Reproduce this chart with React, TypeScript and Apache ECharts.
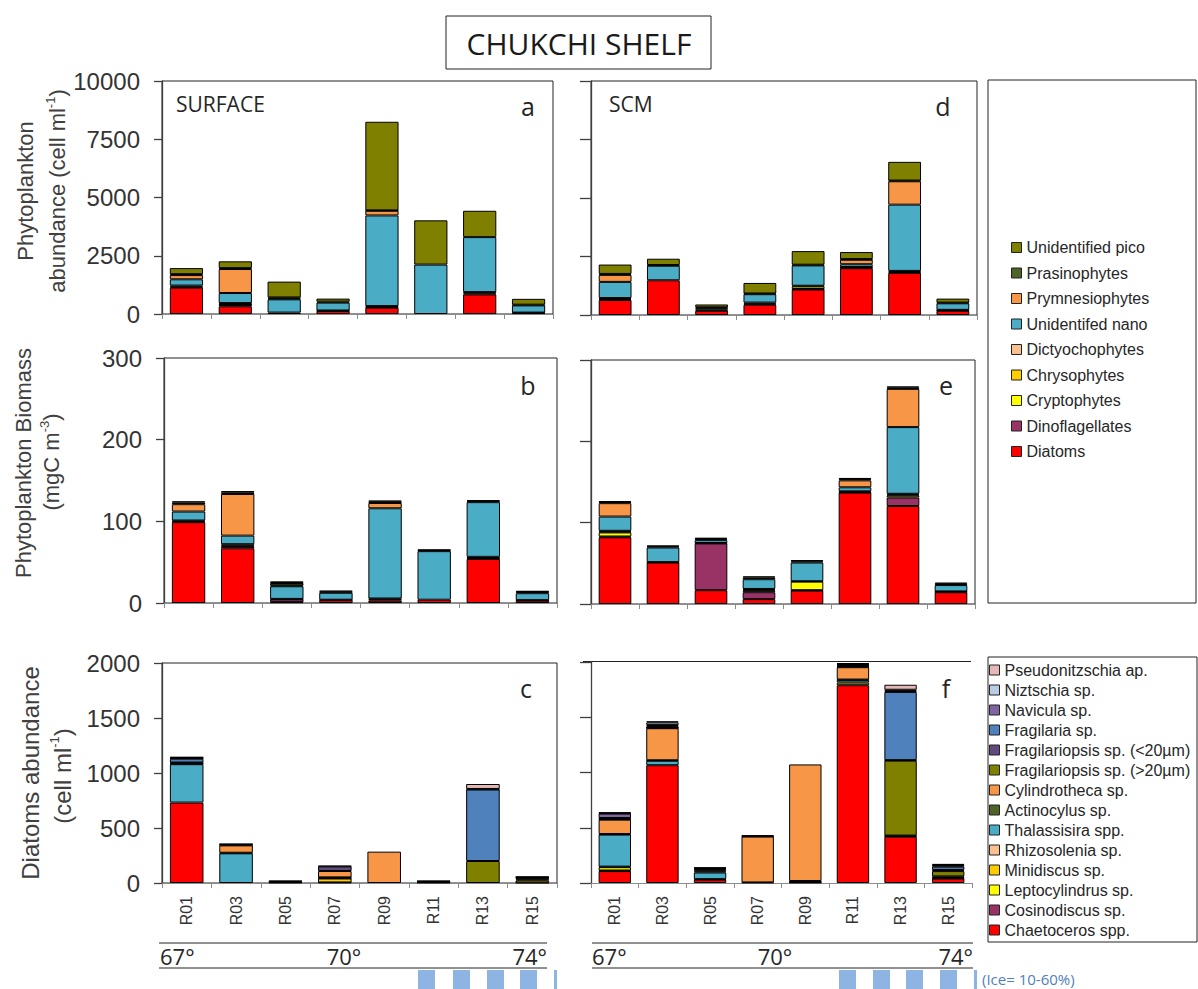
import React, { useEffect, useRef } from 'react';
import * as echarts from 'echarts';

const STATIONS = ['R01', 'R03', 'R05', 'R07', 'R09', 'R11', 'R13', 'R15'];

// groups, stacked bottom -> top
const GROUP_NAMES = ['Diatoms', 'Dinoflagellates', 'Cryptophytes', 'Chrysophytes', 'Dictyochophytes', 'Unidentifed nano', 'Prymnesiophytes', 'Prasinophytes', 'Unidentified pico'];
const GROUP_COLORS = ['#FF0000', '#993366', '#FFFF00', '#FFCC00', '#FAC090', '#4BACC6', '#F79646', '#4F6228', '#808000'];

// diatom species, stacked bottom -> top
const SPECIES_NAMES = ['Chaetoceros spp.', 'Cosinodiscus sp.', 'Leptocylindrus sp.', 'Minidiscus sp.', 'Rhizosolenia sp.', 'Thalassisira spp.', 'Actinocylus sp.', 'Cylindrotheca sp.', 'Fragilariopsis sp. (>20µm)', 'Fragilariopsis sp. (<20µm)', 'Fragilaria sp.', 'Navicula sp.', 'Niztschia sp.', 'Pseudonitzschia ap.'];
const SPECIES_COLORS = ['#FF0000', '#993366', '#FFFF00', '#FFCC00', '#FAC090', '#4BACC6', '#4F6228', '#F79646', '#808000', '#604A7B', '#4F81BD', '#8064A2', '#B9CDE5', '#E6B9B8'];

// a: surface abundance (cell ml-1), rows follow GROUP_NAMES
const abundSurface = [
  [1130, 330, 60, 130, 270, 0, 840, 40],
  [40, 50, 0, 0, 30, 0, 40, 20],
  [0, 20, 0, 0, 0, 0, 0, 0],
  [0, 30, 0, 0, 0, 0, 0, 0],
  [50, 40, 0, 20, 40, 0, 60, 0],
  [270, 430, 570, 340, 3890, 2120, 2360, 310],
  [180, 1030, 40, 0, 200, 0, 0, 0],
  [40, 40, 40, 40, 20, 0, 0, 30],
  [260, 290, 680, 130, 3800, 1900, 1130, 250],
];
// d: SCM abundance
const abundScm = [
  [640, 1485, 180, 440, 1090, 2000, 1800, 180],
  [40, 0, 50, 40, 20, 20, 40, 20],
  [0, 0, 0, 0, 110, 0, 0, 0],
  [0, 0, 0, 0, 0, 0, 0, 0],
  [45, 0, 60, 50, 30, 30, 45, 20],
  [690, 620, 0, 360, 870, 120, 2830, 280],
  [300, 0, 0, 0, 0, 190, 1000, 0],
  [40, 30, 40, 30, 30, 30, 30, 30],
  [400, 270, 120, 450, 580, 300, 800, 170],
];
// b: surface biomass (mgC m-3)
const biomassSurface = [
  [99, 67, 1, 3.5, 3, 4, 54, 3],
  [1, 2, 3.5, 0, 1.5, 0, 1, 0],
  [0, 0, 0, 0, 0, 0, 0, 0],
  [0, 1, 0, 0, 0, 0, 0, 0],
  [1, 2, 0.5, 0.5, 1, 0, 1.5, 0.5],
  [11, 10.5, 15.5, 8.5, 110.5, 59.5, 67, 8.5],
  [9, 51, 1, 0, 6.5, 0, 0, 0],
  [2, 2, 3, 1.5, 1.5, 1, 1.2, 1.5],
  [1.5, 1.5, 2, 1, 1.5, 1, 1.2, 1.5],
];
// e: SCM biomass
const biomassScm = [
  [82, 51, 17, 6, 16.5, 137, 120.5, 14.5],
  [1, 0, 57.5, 8.5, 0.5, 0.5, 10.5, 0.5],
  [5, 0, 0, 2, 10.5, 0, 2.5, 0],
  [1, 0, 0, 1, 0, 0, 1, 0],
  [1, 0.5, 0.5, 1, 0.5, 1, 1, 0.5],
  [17.5, 18, 3.5, 12, 23, 5, 82, 7.8],
  [16.5, 0, 0, 0, 0, 8.5, 47, 0],
  [1.5, 1.3, 1.5, 2, 1.5, 1.5, 1.5, 1.5],
  [1, 1, 1.5, 1.5, 1.5, 1.5, 1.5, 1.5],
];
// c: surface diatoms abundance (cell ml-1), rows follow SPECIES_NAMES
const diatomSurface = [
  [731, 0, 5, 5, 0, 5, 0, 3],
  [0, 0, 0, 0, 0, 0, 0, 0],
  [0, 0, 0, 0, 0, 0, 0, 0],
  [0, 0, 0, 36, 0, 0, 0, 20],
  [0, 0, 0, 0, 0, 0, 0, 0],
  [349, 270, 5, 5, 0, 5, 0, 0],
  [5, 5, 0, 5, 0, 0, 0, 10],
  [0, 67, 5, 58, 285, 5, 0, 0],
  [5, 0, 0, 0, 0, 0, 200, 10],
  [5, 5, 0, 42, 0, 0, 0, 5],
  [35, 5, 0, 0, 0, 5, 650, 5],
  [5, 3, 5, 5, 0, 0, 5, 5],
  [5, 0, 0, 0, 0, 0, 0, 0],
  [5, 0, 0, 0, 0, 0, 45, 0],
];
// f: SCM diatoms abundance
const diatomScm = [
  [108, 1066, 30, 0, 5, 1790, 419, 40],
  [5, 0, 5, 0, 3, 0, 0, 5],
  [30, 0, 0, 0, 0, 0, 0, 0],
  [5, 0, 0, 0, 0, 24, 0, 0],
  [0, 0, 0, 0, 0, 0, 0, 0],
  [290, 40, 60, 0, 5, 22, 0, 5],
  [5, 5, 10, 5, 5, 5, 5, 10],
  [130, 290, 10, 415, 1055, 112, 5, 0],
  [5, 3, 0, 0, 0, 5, 678, 48],
  [5, 5, 10, 5, 0, 5, 5, 10],
  [5, 10, 5, 0, 0, 10, 617, 30],
  [40, 10, 5, 5, 0, 5, 10, 10],
  [5, 24, 0, 0, 0, 5, 10, 5],
  [5, 10, 5, 0, 0, 5, 45, 10],
];

const ABUND_TICKS = [0, 2500, 5000, 7500, 10000];
const BIOMASS_TICKS = [0, 100, 200, 300];
const DIATOM_TICKS = [0, 500, 1000, 1500, 2000];

const LAT_LABELS = ['67°', '70°', '74°'];

const SANS = '"Liberation Sans", Arial, sans-serif';
const OPEN = '"Open Sans", sans-serif';

function stackSeries(rows: number[][], names: string[], colors: string[], axisIndex: number, stack: string) {
  return rows.map((vals, i) => ({
    type: 'bar',
    name: names[i],
    stack,
    xAxisIndex: axisIndex,
    yAxisIndex: axisIndex,
    barWidth: '68%',
    data: vals.map((v) => (v === 0 ? '-' : v)),
    itemStyle: { color: colors[i], borderColor: '#000', borderWidth: 1 },
    emphasis: { disabled: true },
  }));
}

function vText(x: number, y: number, main: string, sup?: string, after?: string, size = 22) {
  const text = sup ? `{t|${main}}{s|${sup}}{t|${after || ''}}` : `{t|${main}}`;
  return {
    type: 'text',
    x,
    y,
    rotation: Math.PI / 2,
    style: {
      text,
      align: 'center',
      verticalAlign: 'middle',
      textAlign: 'center',
      textVerticalAlign: 'middle',
      rich: {
        t: { fontSize: size, fontFamily: SANS, fill: '#404040', color: '#404040', lineHeight: size + 4 },
        s: { fontSize: 13, fontFamily: SANS, fill: '#404040', color: '#404040', verticalAlign: 'top', lineHeight: size + 4 },
      },
    },
  };
}

function label(x: number, y: number, text: string, font: string, align = 'left', fill = '#262626') {
  return {
    type: 'text',
    x,
    y,
    style: { text, font, fill, align, verticalAlign: 'middle', textAlign: align, textVerticalAlign: 'middle' },
  };
}

function hline(x1: number, x2: number, y: number, color = '#222', width = 1) {
  return { type: 'line', shape: { x1, y1: y, x2, y2: y }, style: { stroke: color, lineWidth: width } };
}

function iceBlocks(xs: number[], barX: number) {
  const els: any[] = xs.map((x) => ({ type: 'rect', shape: { x, y: 970, width: 17, height: 19 }, style: { fill: '#8DB4E2' } }));
  els.push({ type: 'rect', shape: { x: barX, y: 970, width: 3, height: 19 }, style: { fill: '#8DB4E2' } });
  return els;
}

export default function App() {
  const ref = useRef<HTMLDivElement>(null);
  useEffect(() => {
    if (!ref.current) return;
    const chart = echarts.init(ref.current, undefined, { renderer: 'svg' });

    const grids = [
      { left: 162, top: 81, width: 391, height: 233, show: true, borderColor: '#222', borderWidth: 1 }, // a
      { left: 164, top: 358, width: 393, height: 245, show: true, borderColor: '#222', borderWidth: 1 }, // b
      { left: 162, top: 663, width: 395, height: 220, show: true, borderColor: '#222', borderWidth: 1 }, // c
      { left: 591, top: 81, width: 386, height: 234, show: true, borderColor: '#222', borderWidth: 1 }, // d
      { left: 591, top: 360, width: 384, height: 244, show: true, borderColor: '#222', borderWidth: 1 }, // e
      { left: 591, top: 662, width: 381, height: 221, show: false }, // f
    ];

    const ticksFor = [ABUND_TICKS, BIOMASS_TICKS, DIATOM_TICKS, ABUND_TICKS, BIOMASS_TICKS, DIATOM_TICKS];

    const xAxes = grids.map((_, i) => ({
      type: 'category',
      gridIndex: i,
      data: STATIONS,
      axisLine: { show: true, lineStyle: { color: '#8c8c8c', width: 1 } },
      axisTick: { show: true, length: 5, interval: 0, lineStyle: { color: '#8c8c8c' } },
      axisLabel:
        i === 2 || i === 5
          ? { show: true, rotate: 90, interval: 0, fontSize: 16, fontFamily: SANS, color: '#333', margin: 13 }
          : { show: false },
    }));

    const yAxes = grids.map((_, i) => {
      const t = ticksFor[i];
      const left = i < 3;
      return {
        type: 'value',
        gridIndex: i,
        min: t[0],
        max: t[t.length - 1],
        interval: t[1] - t[0],
        splitLine: { show: false },
        axisLine: { show: true, lineStyle: { color: '#404040', width: 1.3 } },
        axisTick: { show: true, length: left ? 8 : 11, lineStyle: { color: '#404040', width: 1.3 } },
        axisLabel: left
          ? { show: true, fontSize: 24, fontFamily: SANS, color: '#333', margin: 22, formatter: (v: number) => String(v) }
          : { show: false },
      };
    });

    const series = [
      ...stackSeries(abundSurface, GROUP_NAMES, GROUP_COLORS, 0, 'a'),
      ...stackSeries(biomassSurface, GROUP_NAMES, GROUP_COLORS, 1, 'b'),
      ...stackSeries(diatomSurface, SPECIES_NAMES, SPECIES_COLORS, 2, 'c'),
      ...stackSeries(abundScm, GROUP_NAMES, GROUP_COLORS, 3, 'd'),
      ...stackSeries(biomassScm, GROUP_NAMES, GROUP_COLORS, 4, 'e'),
      ...stackSeries(diatomScm, SPECIES_NAMES, SPECIES_COLORS, 5, 'f'),
    ];

    const graphic: any[] = [
      { type: 'rect', shape: { x: 446, y: 16, width: 265, height: 53 }, style: { fill: '#fff', stroke: '#222', lineWidth: 1 } },
      label(579, 43, 'CHUKCHI SHELF', `30px ${OPEN}`, 'center', '#1a1a1a'),
      { type: 'rect', shape: { x: 988, y: 80, width: 208, height: 523 }, style: { fill: 'none', stroke: '#222', lineWidth: 1 } },
      { type: 'rect', shape: { x: 988, y: 657, width: 209, height: 285 }, style: { fill: 'none', stroke: '#222', lineWidth: 1 } },
      label(176, 104, 'SURFACE', `21px ${OPEN}`),
      label(609, 104, 'SCM', `21px ${OPEN}`),
      label(528, 106, 'a', `25px ${OPEN}`, 'center'),
      label(528, 385, 'b', `25px ${OPEN}`, 'center'),
      label(526, 688, 'c', `25px ${OPEN}`, 'center'),
      label(943, 106, 'd', `25px ${OPEN}`, 'center'),
      label(946, 385, 'e', `25px ${OPEN}`, 'center'),
      label(946, 688, 'f', `25px ${OPEN}`, 'center'),
      vText(25, 191, 'Phytoplankton'),
      vText(57, 191, 'abundance (cell ml', '-1', ')'),
      vText(23, 463, 'Phytoplankton Biomass'),
      vText(51, 462, '(mgC m', '-3', ')'),
      vText(30, 773, 'Diatoms abundance', undefined, undefined, 24),
      vText(62, 776, '(cell ml', '-1', ')', 24),
      hline(583, 971, 661.5),
      hline(159, 547, 943),
      hline(159, 547, 968),
      label(160, 956, LAT_LABELS[0], `22px ${OPEN}`, 'left'),
      label(344, 956, LAT_LABELS[1], `22px ${OPEN}`, 'center'),
      label(547, 956, LAT_LABELS[2], `22px ${OPEN}`, 'right'),
      hline(592, 973, 943),
      hline(592, 973, 968),
      label(592, 956, LAT_LABELS[0], `22px ${OPEN}`, 'left'),
      label(775, 956, LAT_LABELS[1], `22px ${OPEN}`, 'center'),
      label(973, 956, LAT_LABELS[2], `22px ${OPEN}`, 'right'),
      ...iceBlocks([418, 453, 487, 520], 554),
      ...iceBlocks([839, 873, 906, 940], 974),
      label(982, 979, '(Ice= 10-60%)', `15px ${OPEN}`, 'left', '#4F81BD'),
    ];

    chart.setOption({
      animation: false,
      backgroundColor: '#fff',
      grid: grids,
      xAxis: xAxes,
      yAxis: yAxes,
      series,
      legend: [
        {
          orient: 'vertical',
          left: 1011,
          top: 239,
          padding: 0,
          itemGap: 8.5,
          itemWidth: 10,
          itemHeight: 10,
          icon: 'rect',
          selectedMode: false,
          data: [...GROUP_NAMES].reverse(),
          itemStyle: { borderColor: '#222', borderWidth: 1 },
          textStyle: { fontSize: 16, fontFamily: SANS, color: '#262626', lineHeight: 17 },
        },
        {
          orient: 'vertical',
          left: 989,
          top: 661,
          padding: 0,
          itemGap: 2,
          itemWidth: 10,
          itemHeight: 10,
          icon: 'rect',
          selectedMode: false,
          data: [...SPECIES_NAMES].reverse(),
          itemStyle: { borderColor: '#222', borderWidth: 1 },
          textStyle: { fontSize: 16, fontFamily: SANS, color: '#262626', lineHeight: 18 },
        },
      ],
      graphic,
    });
    return () => chart.dispose();
  }, []);
  return <div ref={ref} style={{ position: 'fixed', left: 0, top: 0, width: 1198, height: 989 }} />;
}
